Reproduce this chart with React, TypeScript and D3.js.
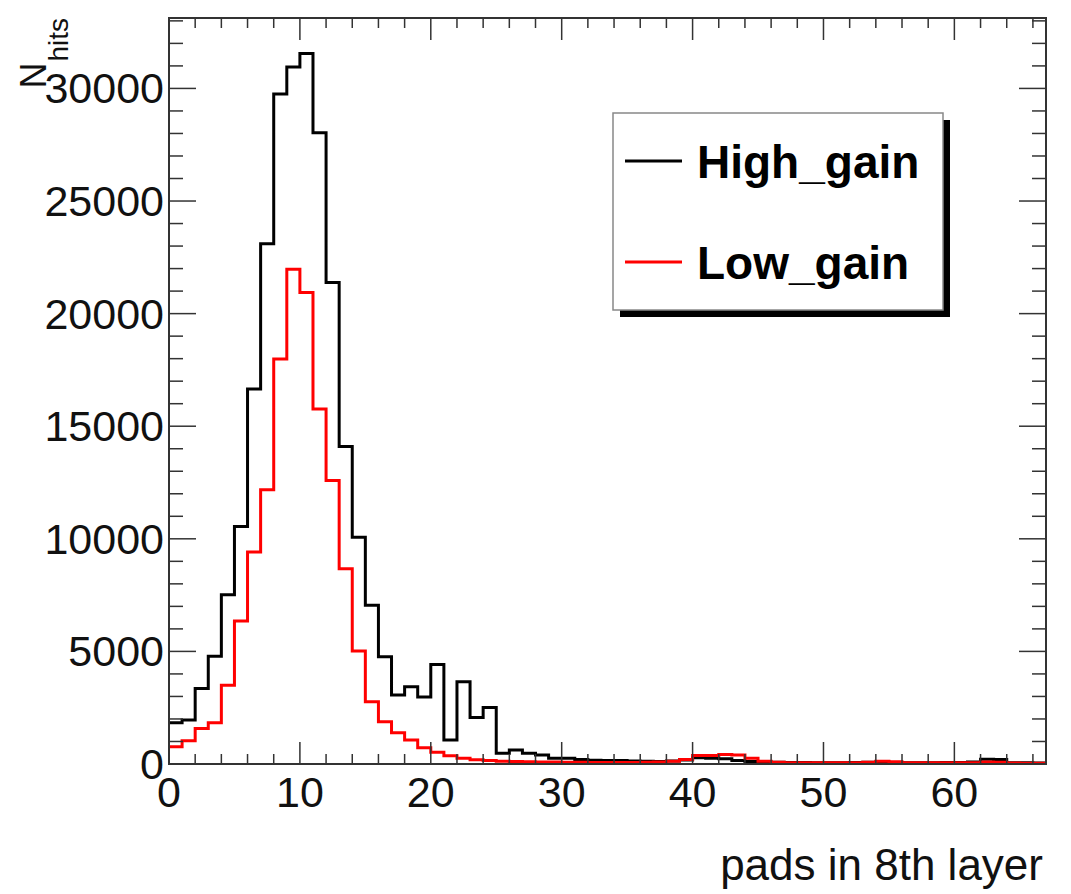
import React from "react";
import * as d3 from "d3";

const binEdges = [0, 67];
const highGain = [
  1830, 1950, 3350, 4780, 7520, 10550, 16650, 23100, 29750, 30950,
  31550, 28030, 21380, 14100, 10070, 7050, 4760, 3060, 3430, 2980,
  4420, 1070, 3650, 2070, 2510, 480, 620, 480, 400, 260,
  250, 200, 170, 150, 150, 130, 120, 110, 130, 180,
  280, 250, 230, 150, 110, 90, 80, 70, 70, 60,
  60, 60, 70, 80, 90, 70, 60, 60, 60, 70,
  70, 90, 210, 200, 60, 50, 40,
];
const lowGain = [
  770, 1030, 1580, 1830, 3500, 6350, 9410, 12180, 17980, 21970,
  20940, 15770, 12590, 8670, 5020, 2760, 1875, 1390, 1065, 720,
  520, 370, 260, 190, 150, 120, 110, 100, 90, 90,
  80, 80, 70, 70, 70, 70, 80, 90, 120, 200,
  380, 380, 420, 400, 250, 120, 80, 60, 60, 50,
  50, 50, 60, 80, 120, 100, 60, 50, 50, 50,
  50, 60, 90, 80, 40, 30, 30,
];
const xMajorTicks = [0, 10, 20, 30, 40, 50, 60];
const yMajorTicks = [0, 5000, 10000, 15000, 20000, 25000, 30000];
const seriesNames = ["High_gain", "Low_gain"];
const seriesColors = ["#000000", "#ff0000"];

const W = 1071;
const H = 894;
const L = 169, R = 1046, T = 18, B = 764;
const FONT = "'Liberation Sans', Arial, Helvetica, sans-serif";

export default function App() {
  const x = d3.scaleLinear().domain(binEdges).range([L, R]);
  const yMax = 1.05 * d3.max(highGain)!;
  const y = d3.scaleLinear().domain([0, yMax]).range([B, T]);

  const stepPath = (vals: number[]) => {
    const pts: [number, number][] = vals.map((v, i) => [i, v]);
    pts.push([vals.length, vals[vals.length - 1]]);
    return d3
      .line<[number, number]>()
      .x((d) => x(d[0]))
      .y((d) => y(d[1]))
      .curve(d3.curveStepAfter)(pts) as string;
  };

  const xMinor = d3.range(0, 67, 2).filter((v) => v % 10 !== 0);
  const yMinor = d3.range(0, yMax, 1000).filter((v) => v % 5000 !== 0);

  const axisColor = "#333";

  return (
    <svg
      width={W}
      height={H}
      style={{ position: "absolute", left: 0, top: 0, background: "#fff" }}
      fontFamily={FONT}
    >
      <rect x={0} y={0} width={W} height={H} fill="#fff" />
      <defs>
        <clipPath id="frame">
          <rect x={L} y={T} width={R - L} height={B - T} />
        </clipPath>
      </defs>

      <g clipPath="url(#frame)">
        <path d={stepPath(highGain)} fill="none" stroke={seriesColors[0]} strokeWidth={3} />
        <path d={stepPath(lowGain)} fill="none" stroke={seriesColors[1]} strokeWidth={3} />
      </g>

      {/* ticks */}
      <g stroke={axisColor} strokeWidth={1.5}>
        {xMajorTicks.map((t) => (
          <g key={"xm" + t}>
            <line x1={x(t)} x2={x(t)} y1={B} y2={B - 22} />
            <line x1={x(t)} x2={x(t)} y1={T} y2={T + 22} />
          </g>
        ))}
        {xMinor.map((t) => (
          <g key={"xn" + t}>
            <line x1={x(t)} x2={x(t)} y1={B} y2={B - 10} />
            <line x1={x(t)} x2={x(t)} y1={T} y2={T + 10} />
          </g>
        ))}
        {yMajorTicks.map((t) => (
          <g key={"ym" + t}>
            <line x1={L} x2={L + 27} y1={y(t)} y2={y(t)} />
            <line x1={R} x2={R - 27} y1={y(t)} y2={y(t)} />
          </g>
        ))}
        {yMinor.map((t) => (
          <g key={"yn" + t}>
            <line x1={L} x2={L + 14} y1={y(t)} y2={y(t)} />
            <line x1={R} x2={R - 14} y1={y(t)} y2={y(t)} />
          </g>
        ))}
      </g>

      <rect x={L} y={T} width={R - L} height={B - T} fill="none" stroke={axisColor} strokeWidth={2} />

      {/* tick labels */}
      <g fontSize={43} fill="#111">
        {xMajorTicks.map((t) => (
          <text key={"xl" + t} x={x(t)} y={807} textAnchor="middle">
            {t}
          </text>
        ))}
        {yMajorTicks.map((t) => (
          <text key={"yl" + t} x={164} y={y(t) + 15} textAnchor="end">
            {t}
          </text>
        ))}
      </g>

      {/* axis titles */}
      <text x={1043} y={880} fontSize={44} textAnchor="end" fill="#111">
        pads in 8th layer
      </text>
      <text transform="translate(46,18) rotate(-90)" textAnchor="end" fill="#111">
        <tspan fontSize={36}>N</tspan>
        <tspan fontSize={28} dy={22} dx={1}>hits</tspan>
      </text>

      {/* legend */}
      <rect x={620} y={120} width={330} height={197} fill="#000" />
      <rect x={613} y={113} width={330} height={197} fill="#fff" stroke="#888" strokeWidth={1.5} />
      {seriesNames.map((name, i) => {
        const ly = [161, 262][i];
        return (
          <g key={name}>
            <line x1={625} x2={682} y1={ly} y2={ly} stroke={seriesColors[i]} strokeWidth={3} />
            <text x={697} y={ly + 17} fontSize={46} fontWeight="bold" fill="#000">
              {name}
            </text>
          </g>
        );
      })}
    </svg>
  );
}
